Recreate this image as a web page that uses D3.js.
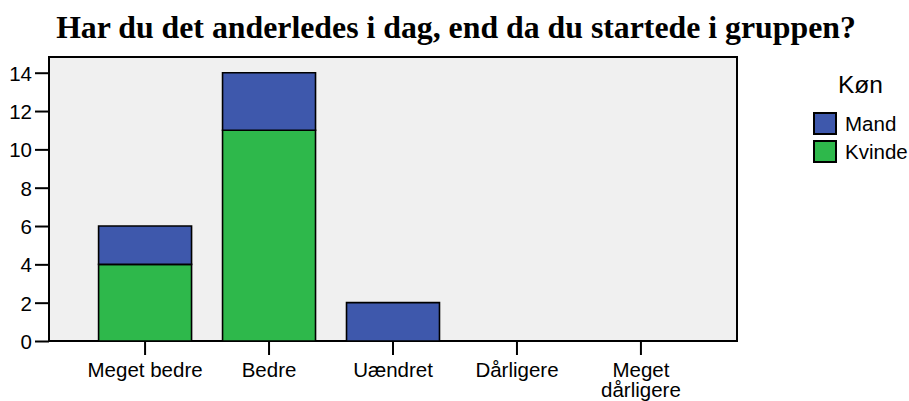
<!DOCTYPE html>
<html>
<head>
<meta charset="utf-8">
<script src="https://cdn.jsdelivr.net/npm/d3@7"></script>
<style>
  body { margin: 0; background: #fff; }
  text { font-family: "Liberation Sans", Arial, sans-serif; fill: #000; }
</style>
</head>
<body>
<div id="chart"></div>
<script>
// data
var categories = ["Meget bedre", "Bedre", "Uændret", "Dårligere", "Meget dårligere"];
var kvinde = [4, 11, 0, 0, 0];
var mand = [2, 3, 2, 0, 0];
var yTicks = [0, 2, 4, 6, 8, 10, 12, 14];
var seriesNames = ["Kvinde", "Mand"];          // stack order, bottom first
var legendNames = ["Mand", "Kvinde"];          // legend order
var colors = { Mand: "#3e58ac", Kvinde: "#2eb84b" };

var svgWidth = 909;
var svgHeight = 401;

var plot = { left: 49, right: 737, top: 57, bottom: 341 };

var svg = d3.select("#chart")
  .append("svg")
  .attr("width", svgWidth)
  .attr("height", svgHeight);

// title
svg.append("text")
  .attr("x", 456)
  .attr("y", 38)
  .attr("text-anchor", "middle")
  .style("font-family", "'Liberation Serif', 'Times New Roman', serif")
  .style("font-weight", "bold")
  .style("font-size", "31.8px")
  .text("Har du det anderledes i dag, end da du startede i gruppen?");

// scales
var x = d3.scaleBand()
  .domain(categories)
  .range([plot.left, plot.right])
  .paddingInner(0.25)
  .paddingOuter(0.4);

var y = d3.scaleLinear()
  .domain([0, 14.82])
  .range([plot.bottom, plot.top]);

// plot background / frame
svg.append("rect")
  .attr("x", plot.left)
  .attr("y", plot.top)
  .attr("width", plot.right - plot.left)
  .attr("height", plot.bottom - plot.top)
  .attr("fill", "#f0f0f0")
  .attr("stroke", "#000")
  .attr("stroke-width", 2);

// stacked bars
var rows = categories.map(function (c, i) {
  return { cat: c, Kvinde: kvinde[i], Mand: mand[i] };
});
var stacked = d3.stack().keys(seriesNames)(rows);

stacked.forEach(function (layer) {
  svg.append("g")
    .selectAll("path")
    .data(layer)
    .enter()
    .append("path")
    .attr("d", function (d) {
      var x0 = x(d.data.cat), w = x.bandwidth();
      var y0 = y(d[0]), y1 = y(d[1]);
      return "M" + x0 + "," + y0 + "H" + (x0 + w) + "V" + y1 + "H" + x0 + "Z";
    })
    .attr("fill", colors[layer.key])
    .attr("stroke", "#000")
    .attr("stroke-width", 1.6);
});

// y axis
var leftAxis = d3.axisLeft(y)
  .tickValues(yTicks)
  .tickSize(14)
  .tickSizeOuter(0)
  .tickPadding(3);

var gy = svg.append("g")
  .attr("transform", "translate(" + plot.left + ",0)")
  .call(leftAxis);
gy.select(".domain").remove();
gy.selectAll("line").attr("stroke", "#000").attr("stroke-width", 2);
gy.selectAll("text")
  .style("font-size", "20.5px")
  .style("font-family", "'Liberation Sans', Arial, sans-serif")
  .attr("dy", "0.36em");

// x axis
var bottomAxis = d3.axisBottom(x)
  .tickSize(14)
  .tickSizeOuter(0);

var gx = svg.append("g")
  .attr("transform", "translate(0," + plot.bottom + ")")
  .call(bottomAxis);
gx.select(".domain").remove();
gx.selectAll("line").attr("stroke", "#000").attr("stroke-width", 2);
gx.selectAll("text")
  .style("font-size", "20.5px")
  .style("font-family", "'Liberation Sans', Arial, sans-serif")
  .attr("y", 35.5)
  .attr("dy", null)
  .each(function (d) {
    var t = d3.select(this);
    // long labels wrap onto two lines
    if (this.getComputedTextLength() > x.step()) {
      var words = d.split(" ");
      t.text(null);
      words.forEach(function (w, i) {
        t.append("tspan")
          .attr("x", 0)
          .attr("y", 35.5 + i * 20)
          .text(w);
      });
    }
  });

// legend
var legend = svg.append("g");
legend.append("text")
  .attr("x", 838)
  .attr("y", 93)
  .style("font-size", "24.5px")
  .text("Køn");

var items = legend.selectAll("g.item")
  .data(legendNames)
  .enter()
  .append("g")
  .attr("class", "item")
  .attr("transform", function (d, i) { return "translate(814," + (113 + i * 28) + ")"; });

items.append("rect")
  .attr("width", 22)
  .attr("height", 21)
  .attr("fill", function (d) { return colors[d]; })
  .attr("stroke", "#000")
  .attr("stroke-width", 2);

items.append("text")
  .attr("x", 31)
  .attr("y", 18)
  .style("font-size", "20.5px")
  .text(function (d) { return d; });
</script>
</body>
</html>
